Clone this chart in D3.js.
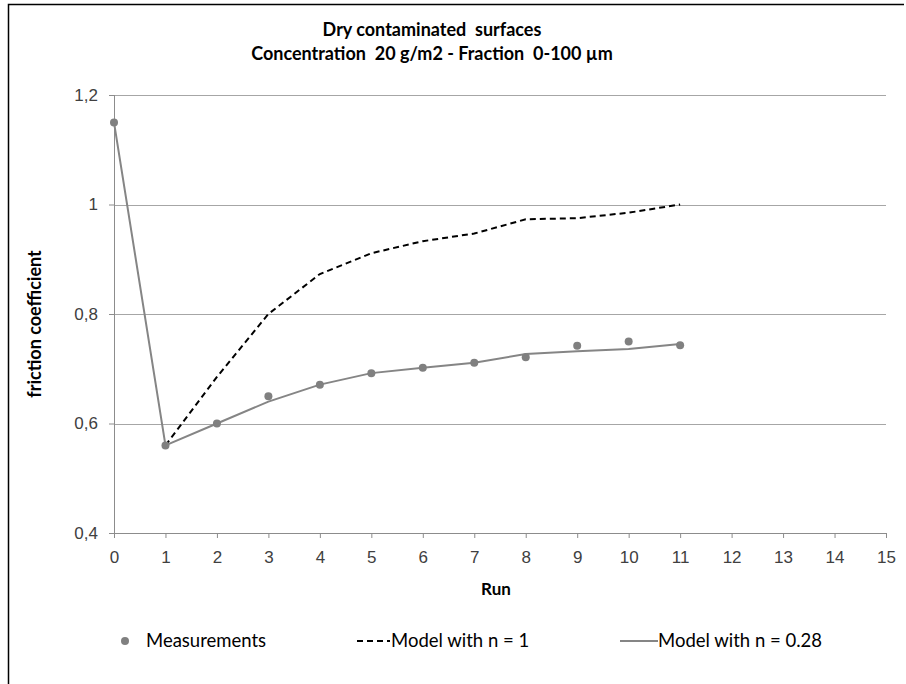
<!DOCTYPE html>
<html>
<head>
<meta charset="utf-8">
<script src="https://cdn.jsdelivr.net/npm/d3@7"></script>
<style>
  body { margin: 0; background: #fff; }
  svg { font-family: Lato, "Open Sans", sans-serif; }
  text { white-space: pre; }
</style>
</head>
<body>
<script>
// data
var runs = [0, 1, 2, 3, 4, 5, 6, 7, 8, 9, 10, 11];
var measured = [1.15, 0.56, 0.60, 0.65, 0.671, 0.692, 0.702, 0.711, 0.721, 0.742, 0.75, 0.743];
var modelN1 = [null, 0.56, 0.685, 0.80, 0.873, 0.911, 0.933, 0.947, 0.973, 0.975, 0.985, 1.0];
var modelN028 = [1.15, 0.56, 0.60, 0.64, 0.671, 0.692, 0.702, 0.711, 0.727, 0.732, 0.736, 0.745];
var xTicks = d3.range(0, 16);
var yTicks = [0.4, 0.6, 0.8, 1.0, 1.2];
var yTickLabels = ["0,4", "0,6", "0,8", "1", "1,2"];

var w = 906, h = 684;
var pLeft = 114, pRight = 886, pTop = 95, pBottom = 533;

var svg = d3.select("body").append("svg")
            .attr("width", w)
            .attr("height", h);

// frame (top and left edges visible)
svg.append("path")
   .attr("d", "M8.5," + h + "V4.5H904")
   .attr("fill", "none")
   .attr("stroke", "#000")
   .attr("stroke-width", 1.5);

var xScale = d3.scaleLinear().domain([0, 15]).range([pLeft, pRight]);
var yScale = d3.scaleLinear().domain([0.4, 1.2]).range([pBottom, pTop]);

// gridlines
svg.append("g")
   .selectAll("line")
   .data(yTicks.slice(1))
   .enter()
   .append("line")
   .attr("x1", pLeft)
   .attr("x2", pRight)
   .attr("y1", function(d){ return Math.round(yScale(d)) + 0.5; })
   .attr("y2", function(d){ return Math.round(yScale(d)) + 0.5; })
   .attr("stroke", "#a6a6a6")
   .attr("stroke-width", 1);

// axes
var xAxis = d3.axisBottom(xScale).tickValues(xTicks).tickSize(5).tickPadding(13)
              .tickFormat(function(d){ return d; });
var yAxis = d3.axisLeft(yScale).tickValues(yTicks).tickSize(5).tickPadding(11)
              .tickFormat(function(d, i){ return yTickLabels[i]; });

var gx = svg.append("g")
            .attr("transform", "translate(0," + pBottom + ")")
            .call(xAxis);
var gy = svg.append("g")
            .attr("transform", "translate(" + pLeft + ",0)")
            .call(yAxis);

[gx, gy].forEach(function(g){
  g.selectAll(".domain").attr("stroke", "#8c8c8c");
  g.selectAll(".tick line").attr("stroke", "#8c8c8c");
  g.selectAll("text").attr("fill", "#404040").attr("font-family", null).style("font-size", "17px");
});
gx.select(".domain").attr("d", "M" + pLeft + ",0.5H" + pRight);
gy.select(".domain").attr("d", "M0.5," + pTop + "V" + pBottom);

// model with n = 1 (dashed)
var pts1 = runs.map(function(r, i){ return [r, modelN1[i]]; })
               .filter(function(p){ return p[1] !== null; });
var line = d3.line()
             .x(function(d){ return xScale(d[0]); })
             .y(function(d){ return yScale(d[1]); });

svg.append("path")
   .datum(pts1)
   .attr("d", line)
   .attr("fill", "none")
   .attr("stroke", "#000")
   .attr("stroke-width", 2)
   .attr("stroke-dasharray", "6,4");

// model with n = 0.28 (solid gray)
svg.append("path")
   .datum(runs.map(function(r, i){ return [r, modelN028[i]]; }))
   .attr("d", line)
   .attr("fill", "none")
   .attr("stroke", "#858585")
   .attr("stroke-width", 2);

// measurements
svg.append("g")
   .selectAll("circle")
   .data(runs.map(function(r, i){ return [r, measured[i]]; }))
   .enter()
   .append("circle")
   .attr("cx", function(d){ return xScale(d[0]); })
   .attr("cy", function(d){ return yScale(d[1]); })
   .attr("r", 4)
   .attr("fill", "#808080");

// titles
var title = svg.append("text")
               .attr("text-anchor", "middle")
               .attr("font-weight", "bold")
               .attr("fill", "#000")
               .style("font-size", "18px");
title.append("tspan").attr("x", 432).attr("y", 36).text("Dry contaminated  surfaces");
title.append("tspan").attr("x", 432).attr("y", 60).text("Concentration  20 g/m2 - Fraction  0-100 µm");

svg.append("text")
   .attr("x", 496)
   .attr("y", 595)
   .attr("text-anchor", "middle")
   .attr("font-weight", "bold")
   .style("font-size", "17px")
   .text("Run");

svg.append("text")
   .attr("transform", "translate(41," + 324 + ") rotate(-90)")
   .attr("text-anchor", "middle")
   .attr("font-weight", "bold")
   .style("font-size", "18px")
   .text("friction coefficient");

// legend
var leg = svg.append("g").style("font-size", "18.5px").attr("fill", "#000");
leg.append("circle").attr("cx", 125).attr("cy", 641).attr("r", 4).attr("fill", "#808080");
leg.append("text").attr("x", 146).attr("y", 647).text("Measurements");
leg.append("line").attr("x1", 357).attr("x2", 390).attr("y1", 641).attr("y2", 641)
   .attr("stroke", "#000").attr("stroke-width", 2).attr("stroke-dasharray", "6,4");
leg.append("text").attr("x", 391).attr("y", 647).text("Model with n = 1");
leg.append("line").attr("x1", 620).attr("x2", 658).attr("y1", 641).attr("y2", 641)
   .attr("stroke", "#858585").attr("stroke-width", 2);
leg.append("text").attr("x", 658).attr("y", 647).text("Model with n = 0.28");
</script>
</body>
</html>
